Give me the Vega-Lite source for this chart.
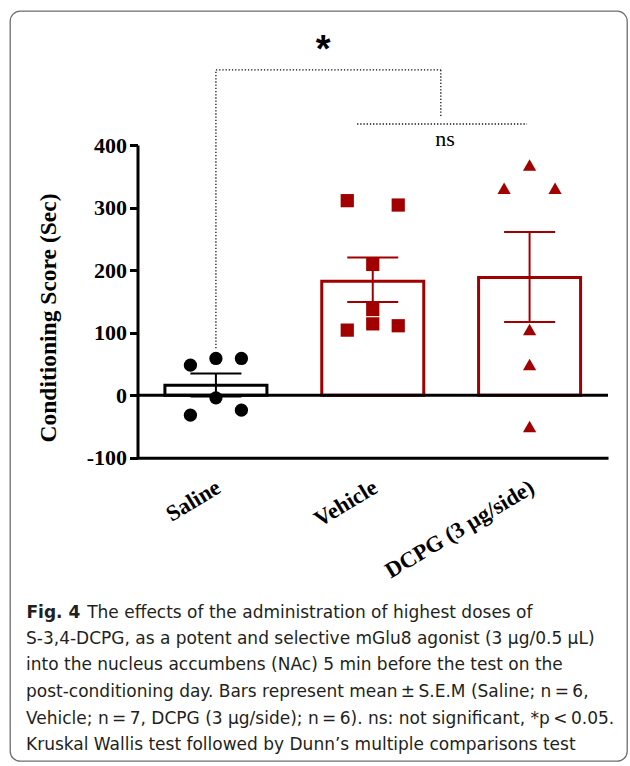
{
  "$schema": "https://vega.github.io/schema/vega-lite/v6.json",
  "width": 617,
  "height": 750,
  "autosize": {"type": "none"},
  "padding": {"left": 10, "top": 11, "right": 3, "bottom": 5},
  "background": "white",
  "config": {
    "view": {"stroke": "#6e6e6e", "strokeWidth": 1.3, "cornerRadius": 10, "fill": "white"}
  },
  "title": {
    "text": [
      "S-3,4-DCPG, as a potent and selective mGlu8 agonist (3 µg/0.5 µL)",
      "into the nucleus accumbens (NAc) 5 min before the test on the",
      "post-conditioning day. Bars represent mean\u2009±\u2009S.E.M (Saline; n\u2009=\u20096,",
      "Vehicle; n\u2009=\u20097, DCPG (3 µg/side); n\u2009=\u20096). ns: not significant, *p\u2009<\u20090.05.",
      "Kruskal Wallis test followed by Dunn’s multiple comparisons test"
    ],
    "orient": "bottom",
    "anchor": "start",
    "frame": "group",
    "offset": -130.3,
    "dx": 16,
    "font": "DejaVu Sans",
    "fontSize": 17,
    "fontWeight": "normal",
    "color": "#231f20",
    "lineHeight": 26.7
  },
  "datasets": {
    "bars": [
      {"group": "Saline", "mean": 16},
      {"group": "Vehicle", "mean": 182},
      {"group": "DCPG (3 µg/side)", "mean": 188}
    ],
    "errors": [
      {"group": "Saline", "lo": -2, "hi": 34.5},
      {"group": "Vehicle", "lo": 149, "hi": 220},
      {"group": "DCPG (3 µg/side)", "lo": 117, "hi": 261}
    ],
    "points": [
      {"group": "Saline", "pos": "L", "value": 48},
      {"group": "Saline", "pos": "C", "value": 58.7},
      {"group": "Saline", "pos": "R", "value": 58.7},
      {"group": "Saline", "pos": "C", "value": -4.3},
      {"group": "Saline", "pos": "L", "value": -32},
      {"group": "Saline", "pos": "R", "value": -24},
      {"group": "Vehicle", "pos": "L", "value": 311},
      {"group": "Vehicle", "pos": "R", "value": 304},
      {"group": "Vehicle", "pos": "C", "value": 209},
      {"group": "Vehicle", "pos": "C", "value": 137},
      {"group": "Vehicle", "pos": "C", "value": 114},
      {"group": "Vehicle", "pos": "L", "value": 104},
      {"group": "Vehicle", "pos": "R", "value": 111},
      {"group": "DCPG (3 µg/side)", "pos": "C", "value": 368},
      {"group": "DCPG (3 µg/side)", "pos": "L", "value": 331},
      {"group": "DCPG (3 µg/side)", "pos": "R", "value": 331},
      {"group": "DCPG (3 µg/side)", "pos": "C", "value": 105},
      {"group": "DCPG (3 µg/side)", "pos": "C", "value": 49},
      {"group": "DCPG (3 µg/side)", "pos": "C", "value": -50}
    ],
    "brackets": [
      {"x1": 1, "x2": 1, "y1": 75, "y2": 520},
      {"x1": 1, "x2": 2.434, "y1": 520, "y2": 520},
      {"x1": 2.434, "x2": 2.434, "y1": 520, "y2": 445},
      {"x1": 1.9, "x2": 2.984, "y1": 433.6, "y2": 433.6}
    ],
    "star": [{"label": "*", "x": 1.683, "y": 532}],
    "ns": [{"label": "ns", "x": 2.461, "y": 398.5}]
  },
  "layer": [
    {
      "data": {"name": "bars"},
      "mark": {"type": "bar", "fill": "white", "strokeWidth": 3, "size": 102},
      "encoding": {
        "x": {
          "field": "group", "type": "nominal", "sort": null,
          "scale": {"domain": ["Saline", "Vehicle", "DCPG (3 µg/side)"], "range": [127.5, 598], "paddingInner": 0.35, "paddingOuter": 0.175},
          "axis": {
            "orient": "bottom", "offset": -303.3, "title": null,
            "domainWidth": 3, "domainColor": "black", "ticks": false,
            "labelAngle": -31, "labelAlign": "right", "labelBaseline": "top", "labelPadding": 18, "labelOffset": -3,
            "labelFont": "Liberation Serif", "labelFontWeight": "bold", "labelFontSize": 22.5, "labelColor": "black", "labelLimit": 0
          }
        },
        "y": {
          "field": "mean", "type": "quantitative",
          "scale": {"domain": [-100, 400], "range": [446.7, 134], "nice": false, "zero": false},
          "axis": {
            "orient": "left", "offset": -127.5, "values": [-100, 0, 100, 200, 300, 400], "labelExpr": "'' + datum.value",
            "grid": false, "domainWidth": 3, "domainColor": "black", "tickWidth": 3, "tickSize": 8, "tickColor": "black",
            "labelFont": "Liberation Serif", "labelFontWeight": "bold", "labelFontSize": 22, "labelColor": "black", "labelPadding": 3,
            "title": "Conditioning Score (Sec)", "titleFont": "Liberation Serif", "titleFontWeight": "bold", "titleFontSize": 23.5, "titleColor": "black",
            "titleAngle": -90, "titleX": -89, "titleY": 306.5, "titleAlign": "center", "titleBaseline": "middle"
          }
        },
        "y2": {"datum": 0},
        "stroke": {"field": "group", "type": "nominal", "scale": {"domain": ["Saline", "Vehicle", "DCPG (3 µg/side)"], "range": ["black", "#a20000", "#a20000"]}, "legend": null}
      }
    },
    {
      "layer": [
        {
          "data": {"values": [{"v": 0}]},
          "mark": {"type": "rule", "strokeWidth": 3, "color": "black"},
          "encoding": {
            "x": {
              "datum": 0.5, "type": "quantitative",
              "scale": {"domain": [0.5, 3.5], "range": [127.5, 598], "nice": false, "zero": false},
              "axis": {
                "orient": "bottom", "offset": 0, "domain": false, "ticks": false, "labels": false, "grid": false,
                "title": "The effects of the administration of highest doses of",
                "titleFont": "DejaVu Sans", "titleFontSize": 17, "titleFontWeight": "normal", "titleColor": "#231f20",
                "titleAngle": 0, "titleAlign": "left", "titleBaseline": "alphabetic", "titleX": 76.7, "titleY": -144, "titleLimit": 1000
              }
            },
            "x2": {"datum": 3.5},
            "y": {"field": "v", "type": "quantitative"}
          }
        },
        {
          "data": {"name": "brackets"},
          "mark": {"type": "rule", "strokeWidth": 1.3, "color": "#111111", "strokeDash": [1.3, 1.9]},
          "encoding": {
            "x": {"field": "x1", "type": "quantitative"},
            "x2": {"field": "x2"},
            "y": {"field": "y1", "type": "quantitative"},
            "y2": {"field": "y2"}
          }
        },
        {
          "data": {"name": "star"},
          "mark": {"type": "text", "font": "Liberation Sans", "fontWeight": "bold", "fontSize": 38, "align": "center", "baseline": "alphabetic", "color": "black"},
          "encoding": {
            "x": {"field": "x", "type": "quantitative"},
            "y": {"field": "y", "type": "quantitative"},
            "text": {"field": "label"}
          }
        },
        {
          "data": {"name": "ns"},
          "mark": {"type": "text", "font": "Liberation Serif", "fontSize": 22, "align": "center", "baseline": "alphabetic", "color": "black"},
          "encoding": {
            "x": {"field": "x", "type": "quantitative"},
            "y": {"field": "y", "type": "quantitative"},
            "text": {"field": "label"}
          }
        }
      ]
    },
    {
      "layer": [
        {
          "data": {"name": "errors"},
          "mark": {"type": "rule", "strokeWidth": 2},
          "encoding": {
            "x": {"field": "group", "type": "nominal", "sort": null,
              "scale": {"domain": ["Saline", "Vehicle", "DCPG (3 µg/side)"], "range": [127.5, 598], "paddingInner": 0.35, "paddingOuter": 0.175},
              "axis": {
                "orient": "bottom", "offset": 0, "domain": false, "ticks": false, "labels": false, "grid": false,
                "title": "Fig. 4",
                "titleFont": "DejaVu Sans", "titleFontSize": 17, "titleFontWeight": "bold", "titleColor": "#231f20",
                "titleAngle": 0, "titleAlign": "left", "titleBaseline": "alphabetic", "titleX": 16, "titleY": -144, "titleLimit": 1000
              }
            },
            "y": {"field": "lo", "type": "quantitative"},
            "y2": {"field": "hi"},
            "color": {"field": "group", "type": "nominal", "scale": {"domain": ["Saline", "Vehicle", "DCPG (3 µg/side)"], "range": ["black", "#a20000", "#a20000"]}, "legend": null}
          }
        },
        {
          "data": {"name": "errors"},
          "mark": {"type": "tick", "size": 51, "thickness": 2, "opacity": 1},
          "encoding": {
            "x": {"field": "group", "type": "nominal", "sort": null},
            "y": {"field": "hi", "type": "quantitative"},
            "color": {"field": "group", "type": "nominal", "legend": null}
          }
        },
        {
          "data": {"name": "errors"},
          "mark": {"type": "tick", "size": 51, "thickness": 2, "opacity": 1},
          "encoding": {
            "x": {"field": "group", "type": "nominal", "sort": null},
            "y": {"field": "lo", "type": "quantitative"},
            "color": {"field": "group", "type": "nominal", "legend": null}
          }
        },
        {
          "data": {"name": "points"},
          "mark": {"type": "point", "filled": true, "opacity": 1, "size": 175},
          "encoding": {
            "x": {"field": "group", "type": "nominal", "sort": null},
            "xOffset": {"field": "pos", "type": "nominal", "scale": {"type": "point", "padding": 1, "domain": ["L", "C", "R"]}},
            "y": {"field": "value", "type": "quantitative"},
            "color": {"field": "group", "type": "nominal", "legend": null},
            "shape": {"field": "group", "type": "nominal", "scale": {"domain": ["Saline", "Vehicle", "DCPG (3 µg/side)"], "range": ["circle", "square", "triangle-up"]}, "legend": null}
          }
        }
      ]
    }
  ],
  "resolve": {"scale": {"x": "independent"}}
}
